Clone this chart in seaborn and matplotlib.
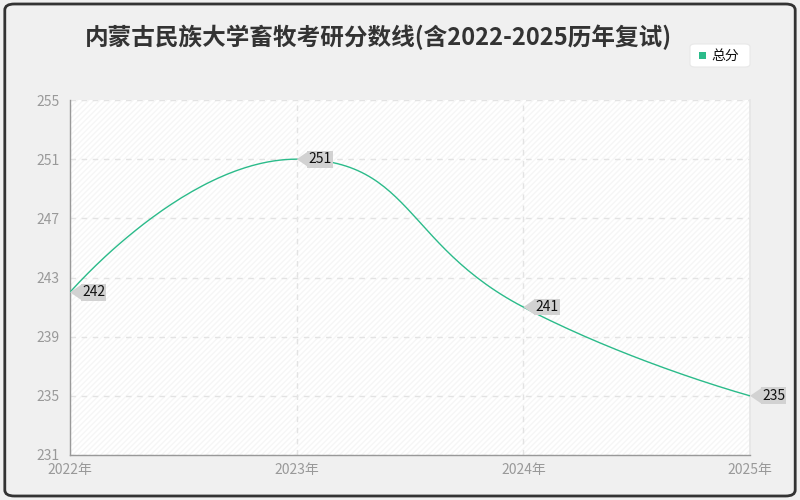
import numpy as np
import pandas as pd
import matplotlib
matplotlib.use("Agg")
import matplotlib.pyplot as plt
import seaborn as sns
from matplotlib.patches import FancyBboxPatch, Rectangle, Polygon

years = [2022, 2023, 2024, 2025]
year_labels = ["2022年", "2023年", "2024年", "2025年"]
scores = [242, 251, 241, 235]
series_name = "总分"
title = "内蒙古民族大学畜牧考研分数线(含2022-2025历年复试)"
y_ticks = [231, 235, 239, 243, 247, 251, 255]

line_color = "#2bbb8a"

sns.set_theme(style="white")
plt.rcParams['font.family'] = ['Noto Sans CJK SC', 'DejaVu Sans']


def smooth_curve(pts, smooth=0.5, n=60):
    # echarts-style bezier smoothing with control points clamped between neighbours
    pts = np.asarray(pts, float)
    k = len(pts)
    cp0 = pts.copy()
    cp1 = pts.copy()
    for i in range(1, k - 1):
        p, prv, nxt = pts[i], pts[i - 1], pts[i + 1]
        v = nxt - prv
        l0 = np.hypot(*(p - prv))
        l1 = np.hypot(*(nxt - p))
        c1 = p + v * smooth * l1 / (l0 + l1)
        c1 = np.minimum(c1, np.maximum(nxt, p))
        c1 = np.maximum(c1, np.minimum(nxt, p))
        c0 = p - (c1 - p) * l0 / l1
        c0 = np.minimum(c0, np.maximum(prv, p))
        c0 = np.maximum(c0, np.minimum(prv, p))
        c1 = p + (p - c0) * l1 / l0
        cp0[i], cp1[i] = c0, c1
    out = []
    t = np.linspace(0, 1, n)[:, None]
    for i in range(k - 1):
        a, b, c, d = pts[i], cp1[i], cp0[i + 1], pts[i + 1]
        seg = (1 - t)**3 * a + 3 * (1 - t)**2 * t * b + 3 * (1 - t) * t**2 * c + t**3 * d
        out.append(seg)
    return np.vstack(out)


fig = plt.figure(figsize=(8, 5), dpi=100, facecolor="#f0f0f0")
fig.patches.append(FancyBboxPatch((0.006, 0.008), 0.988, 0.984, boxstyle="round,pad=0,rounding_size=0.012",
                                  transform=fig.transFigure, fc="#f0f0f0", ec="#333333", lw=2, zorder=-10))

ax = fig.add_axes([0.0875, 0.09, 0.85, 0.71])
ax.set_facecolor("white")
ax.add_patch(Rectangle((0, 0), 1, 1, transform=ax.transAxes, fill=False, hatch="//////",
                       ec="#f6f6f6", lw=0, zorder=0))

ax.set_xlim(2022, 2025)
ax.set_ylim(231, 255)

# smoothing done in screen space, then mapped back to data coords
disp = ax.transData.transform(np.column_stack([years, scores]))
curve_xy = ax.transData.inverted().transform(smooth_curve(disp))
curve = pd.DataFrame({"year": curve_xy[:, 0], "score": curve_xy[:, 1]})

sns.lineplot(data=curve, x="year", y="score", ax=ax, color=line_color, lw=1, zorder=3,
             sort=False, estimator=None)

ax.set_xlim(2022, 2025)
ax.set_ylim(231, 255)
ax.set_xticks(years)
ax.set_xticklabels(year_labels)
ax.set_yticks(y_ticks)
ax.tick_params(axis="both", colors="#999999", labelsize=10, length=4, width=1, labelcolor="#999999")
ax.tick_params(axis="x", pad=2)
ax.grid(True, ls=(0, (4, 4)), color="#e3e3e3", lw=1)
ax.set_xlabel("")
ax.set_ylabel("")
ax.spines["top"].set_visible(False)
for s in ["left", "bottom"]:
    ax.spines[s].set_color("#999999")
    ax.spines[s].set_linewidth(1)
ax.spines["right"].set_color("#e6e6e6")

# value labels: small arrow tip + gray box
for x, y in zip(years, scores):
    px, py = ax.transData.transform((x, y))
    tri = Polygon([(px, py), (px + 11, py + 7.5), (px + 11, py - 7.5)], closed=True,
                  transform=None, fc="#d2d2d2", ec="none", zorder=5)
    fig.patches.append(tri)
    ax.annotate(str(y), xy=(x, y), xytext=(8.6, 0), textcoords="offset points",
                ha="left", va="center", fontsize=10, color="#111111", zorder=6,
                bbox=dict(boxstyle="square,pad=0.1", fc="#d2d2d2", ec="none"))

fig.text(0.473, 0.926, title, ha="center", va="center", fontsize=17, color="#333333", fontweight="bold")

fig.patches.append(FancyBboxPatch((0.8625, 0.866), 0.075, 0.046, boxstyle="round,pad=0,rounding_size=0.006",
                                  transform=fig.transFigure, fc="white", ec="#e8e8e8", lw=0.8))
fig.patches.append(Rectangle((0.874, 0.883), 0.008, 0.013, transform=fig.transFigure, fc=line_color, ec="none"))
fig.text(0.889, 0.889, series_name, ha="left", va="center", fontsize=10, color="#111111")

fig.savefig("out.png", dpi=100, facecolor=fig.get_facecolor())
